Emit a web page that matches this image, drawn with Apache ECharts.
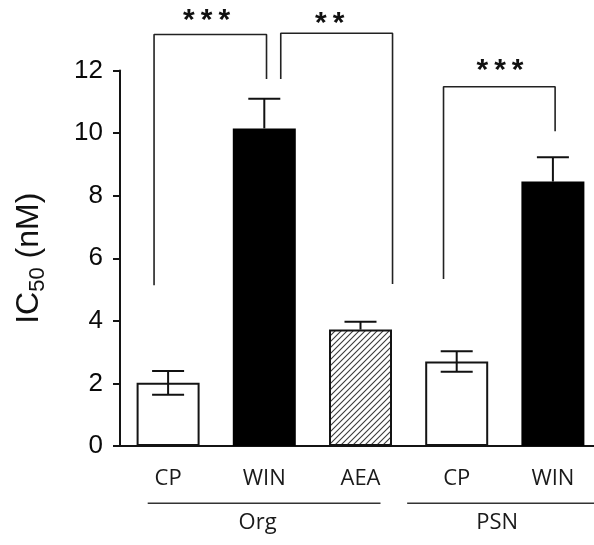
<!DOCTYPE html>
<html>
<head>
<meta charset="utf-8">
<script src="https://cdn.jsdelivr.net/npm/echarts@6/dist/echarts.min.js"></script>
<style>
html,body{margin:0;padding:0;background:#fff;overflow:hidden;width:594px;height:545px;}
#chart{width:601px;height:545px;}
</style>
</head>
<body>
<div id="chart"></div>
<script>
// ---- data ----
const categories = ['CP', 'WIN', 'AEA', 'CP', 'WIN'];
const groupNames = ['Org', 'PSN'];
const groupSpans = [[-0.212, 2.208], [2.485, 4.6]];
const groupLabelX = [0.93, 3.42];
const means = [2.02, 10.15, 3.72, 2.70, 8.45];
const sems = [0.38, 0.95, 0.25, 0.33, 0.78];
const yTicks = [0, 2, 4, 6, 8, 10, 12];
// significance brackets: [leftX, rightX], [leftFootY, topY, rightFootY]
const bracketX = [[-0.146, 1.023], [1.171, 2.333], [2.863, 4.023]];
const bracketY = [[5.14, 13.15, 11.73], [11.73, 13.19, 5.18], [5.34, 11.48, 10.06]];
const bracketLabels = ['*\u2009*\u2009*', '*\u2009*', '*\u2009*\u2009*'];
const bracketLabelPos = [[0.40, 13.6], [1.68, 13.5], [3.45, 12.0]];

// ---- styles ----
const ink = '#141414';
const pc = document.createElement('canvas');
pc.width = 6; pc.height = 6;
const ctx = pc.getContext('2d');
ctx.fillStyle = '#fff'; ctx.fillRect(0, 0, 6, 6);
ctx.strokeStyle = '#3a3a3a'; ctx.lineWidth = 1.1;
ctx.beginPath();
ctx.moveTo(-1, 7); ctx.lineTo(7, -1);
ctx.moveTo(-1, 1); ctx.lineTo(1, -1);
ctx.moveTo(5, 7); ctx.lineTo(7, 5);
ctx.stroke();
const fillFor = {
  CP: { color: '#ffffff', borderColor: ink, borderWidth: 2 },
  WIN: { color: '#000000', borderColor: '#000', borderWidth: 0 },
  AEA: { color: { image: pc, repeat: 'repeat' }, borderColor: ink, borderWidth: 2 }
};
const showLower = { CP: 1, WIN: 0, AEA: 0 };

const chart = echarts.init(document.getElementById('chart'), null, { renderer: 'canvas' });

const bracketSeries = bracketX.map((bx, k) => ({
  type: 'line', xAxisIndex: 1, yAxisIndex: 0, clip: false, symbol: 'none', silent: true,
  lineStyle: { color: '#222', width: 1.6 }, z: 5,
  data: [[bx[0], bracketY[k][0]], [bx[0], bracketY[k][1]], [bx[1], bracketY[k][1]], [bx[1], bracketY[k][2]]]
}));
const groupLineSeries = groupSpans.map(sp => ({
  type: 'line', xAxisIndex: 1, yAxisIndex: 0, clip: false, symbol: 'none', silent: true,
  lineStyle: { color: '#333', width: 1.4 }, z: 5,
  data: [[sp[0], -1.83], [sp[1], -1.83]]
}));

const option = {
  animation: false,
  backgroundColor: '#fff',
  grid: { left: 120, top: 70.5, right: 0, height: 375.5, containLabel: false },
  xAxis: [
    {
      type: 'category', data: categories, boundaryGap: true,
      axisLine: { onZero: false, lineStyle: { color: ink, width: 2 } },
      axisTick: { alignWithLabel: true, length: 10, lineStyle: { color: ink, width: 2 } },
      axisLabel: { margin: 22, color: '#1a1a1a', fontFamily: 'Open Sans', fontSize: 22, interval: 0 },
      splitLine: { show: false }
    },
    { type: 'value', min: -0.5, max: 4.5, show: false }
  ],
  yAxis: {
    type: 'value', min: 0, max: 12, interval: 2,
    name: '{a|IC}{s|50}{a| (nM)}',
    nameLocation: 'middle', nameRotate: 90, nameGap: 71,
    nameTextStyle: {
      rich: {
        a: { fontFamily: 'Liberation Sans', fontSize: 32, color: '#111', lineHeight: 40, verticalAlign: 'middle' },
        s: { fontFamily: 'Liberation Sans', fontSize: 22, color: '#111', lineHeight: 40, verticalAlign: 'bottom' }
      }
    },
    axisLine: { show: true, onZero: false, lineStyle: { color: ink, width: 2 } },
    axisTick: { show: true, length: 7, lineStyle: { color: ink, width: 2 } },
    axisLabel: { margin: 17, color: '#0a0a0a', fontFamily: 'Liberation Sans', fontSize: 26,
      formatter: v => (yTicks.indexOf(v) >= 0 ? String(v) : '') },
    splitLine: { show: false }
  },
  series: [
    {
      type: 'bar', barWidth: 63, z: 2,
      data: means.map((m, i) => ({ value: m, itemStyle: fillFor[categories[i]] }))
    },
    {
      type: 'custom', z: 3, silent: true,
      encode: { x: 0, y: 1 },
      data: means.map((m, i) => [i, m, sems[i], showLower[categories[i]]]),
      renderItem: function (params, api) {
        const i = api.value(0), m = api.value(1), e = api.value(2), low = api.value(3);
        const top = api.coord([i, m + e]);
        const bot = api.coord([i, low ? m - e : m]);
        const hw = 16;
        const st = { stroke: '#111', lineWidth: 2 };
        const ch = [
          { type: 'line', shape: { x1: top[0], y1: top[1], x2: bot[0], y2: bot[1] }, style: st },
          { type: 'line', shape: { x1: top[0] - hw, y1: top[1], x2: top[0] + hw, y2: top[1] }, style: st }
        ];
        if (low) ch.push({ type: 'line', shape: { x1: bot[0] - hw, y1: bot[1], x2: bot[0] + hw, y2: bot[1] }, style: st });
        return { type: 'group', children: ch };
      }
    },
    ...bracketSeries,
    ...groupLineSeries,
    {
      type: 'custom', xAxisIndex: 1, yAxisIndex: 0, z: 6, silent: true, clip: false,
      data: bracketLabelPos.map((p, k) => [p[0], p[1], k]),
      renderItem: function (params, api) {
        const p = api.coord([api.value(0), api.value(1)]);
        return { type: 'text', x: p[0], y: p[1],
          style: { text: bracketLabels[api.value(2)], fontFamily: 'Liberation Sans', fontWeight: 'bold', fontSize: 30,
            fill: '#111', align: 'center', verticalAlign: 'middle' } };
      }
    },
    {
      type: 'custom', xAxisIndex: 1, yAxisIndex: 0, z: 6, silent: true, clip: false,
      data: groupLabelX.map((x, k) => [x, -2.46, k]),
      renderItem: function (params, api) {
        const p = api.coord([api.value(0), api.value(1)]);
        return { type: 'text', x: p[0], y: p[1],
          style: { text: groupNames[api.value(2)], fontFamily: 'Open Sans', fontSize: 22,
            fill: '#1a1a1a', align: 'center', verticalAlign: 'middle' } };
      }
    }
  ]
};
chart.setOption(option);
</script>
</body>
</html>
